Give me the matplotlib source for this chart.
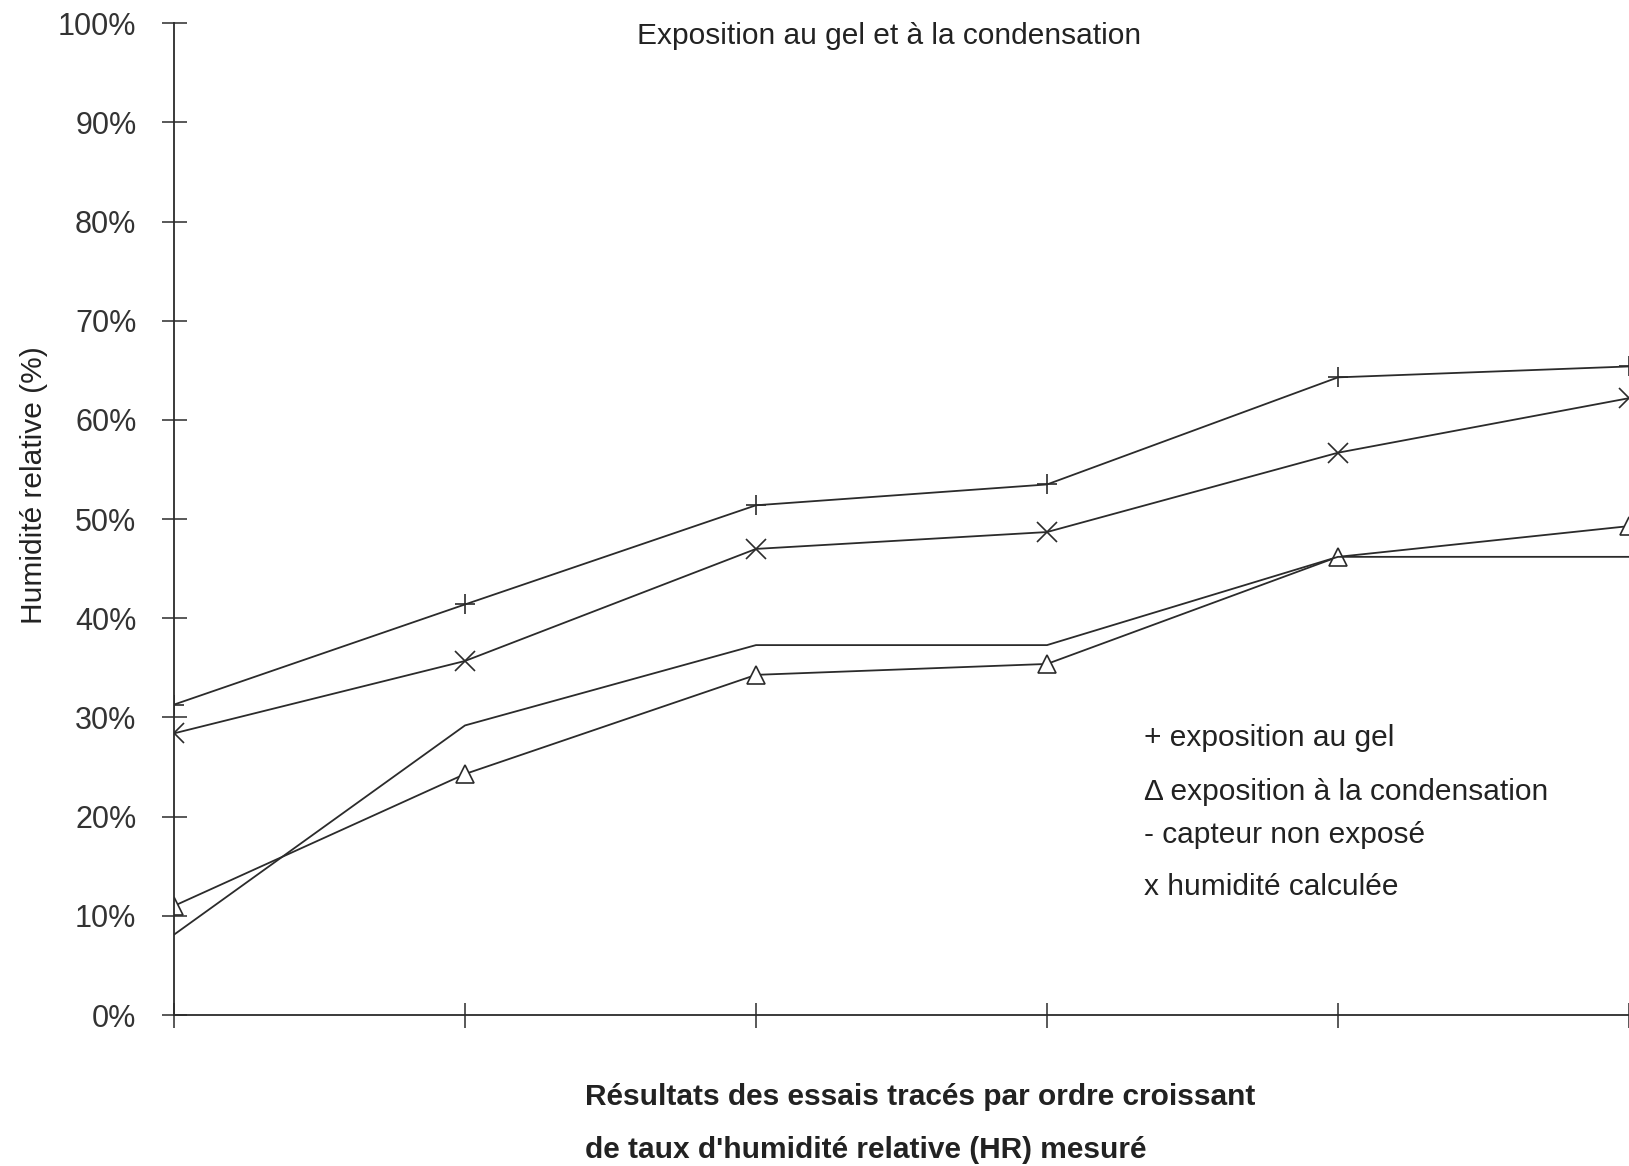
import matplotlib.pyplot as plt

plt.rcParams['font.family'] = ['Liberation Sans', 'DejaVu Sans']

# essais classés par ordre croissant d'HR mesurée
essais = [0, 1, 2, 3, 4, 5]
gel = [31.3, 41.4, 51.4, 53.5, 64.3, 65.4]
condensation = [11.0, 24.3, 34.3, 35.4, 46.2, 49.3]
non_expose = [8.1, 29.2, 37.3, 37.3, 46.2, 46.2]
calculee = [28.4, 35.7, 47.0, 48.7, 56.7, 62.2]

yticks = [0, 10, 20, 30, 40, 50, 60, 70, 80, 90, 100]
ytick_labels = [f"{v}%" for v in yticks]

legend_lines = ["+ exposition au gel",
                "\u0394 exposition à la condensation",
                "- capteur non exposé",
                "x humidité calculée"]

col = '#2b2b2b'
lw = 1.3

fig = plt.figure(figsize=(16.29, 11.66), dpi=100)
ax = fig.add_axes([0.1068, 0.1295, 0.8932, 0.8505])

ax.plot(essais, gel, color=col, lw=lw, marker='+', ms=14, mew=1.2)
ax.plot(essais, calculee, color=col, lw=lw, marker='x', ms=14, mew=1.2)
ax.plot(essais, condensation, color=col, lw=lw, marker='^', ms=13, mew=1.2,
        mfc='white', mec=col)
ax.plot(essais, non_expose, color=col, lw=lw)

ax.set_xlim(0, 5)
ax.set_ylim(0, 100)
ax.set_xticks(essais)
ax.set_xticklabels([])
ax.set_yticks(yticks)
ax.set_yticklabels(ytick_labels)

for s in ['top', 'right']:
    ax.spines[s].set_visible(False)
for s in ['left', 'bottom']:
    ax.spines[s].set_color(col)
    ax.spines[s].set_linewidth(lw)

ax.tick_params(axis='both', direction='inout', length=18, width=1.1, color=col)
ax.tick_params(axis='y', labelsize=22, labelcolor='#333333', pad=18)

fig.text(0.546, 0.969, "Exposition au gel et à la condensation",
         ha='center', va='center', fontsize=21.5, color='#222222')
fig.text(0.021, 0.584, "Humidité relative (%)", rotation=90,
         ha='center', va='center', fontsize=21.5, color='#222222')

fig.text(0.359, 0.059, "Résultats des essais tracés par ordre croissant",
         ha='left', va='center', fontsize=21.5, fontweight='bold', color='#222222')
fig.text(0.359, 0.014, "de taux d'humidité relative (HR) mesuré",
         ha='left', va='center', fontsize=21.5, fontweight='bold', color='#222222')

legend_y = [0.367, 0.321, 0.284, 0.239]
for txt, yy in zip(legend_lines, legend_y):
    fig.text(0.702, yy, txt, ha='left', va='center', fontsize=21.5, color='#222222')

fig.savefig('out.png', dpi=100)
